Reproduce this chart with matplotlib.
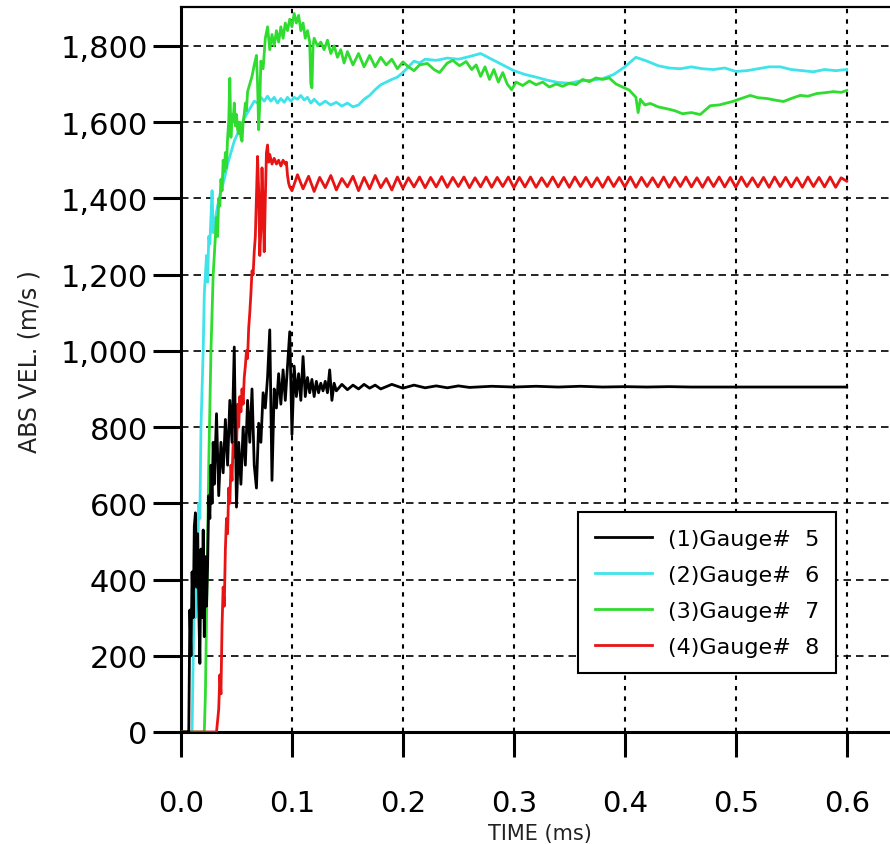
import matplotlib
matplotlib.use('Agg')
import matplotlib.pyplot as plt
from matplotlib.ticker import FuncFormatter, MultipleLocator

plt.rcParams['font.family'] = ['DejaVu Sans']

# ---- data (time in ms, velocity in m/s) ----
# (1) Gauge# 5  -- black
g5_t = [0.000, 0.006, 0.007, 0.008, 0.009, 0.010, 0.011, 0.012, 0.013, 0.014,
        0.015, 0.016, 0.017, 0.018, 0.019, 0.020, 0.021, 0.022, 0.023, 0.024,
        0.025, 0.026, 0.027, 0.028, 0.029, 0.030, 0.032, 0.034, 0.036, 0.038,
        0.040, 0.042, 0.044, 0.046, 0.048, 0.050, 0.052, 0.054, 0.056, 0.058,
        0.060, 0.062, 0.064, 0.066, 0.068, 0.070, 0.072, 0.074, 0.076, 0.078,
        0.080, 0.082, 0.084, 0.086, 0.088, 0.090, 0.092, 0.094, 0.096, 0.098,
        0.100, 0.102, 0.104, 0.106, 0.108, 0.110, 0.112, 0.114, 0.116, 0.118,
        0.120, 0.122, 0.124, 0.126, 0.128, 0.130, 0.132, 0.134, 0.136, 0.138,
        0.140, 0.145, 0.150, 0.155, 0.160, 0.165, 0.170, 0.175, 0.180, 0.190,
        0.200, 0.210, 0.220, 0.230, 0.240, 0.250, 0.260, 0.280, 0.300, 0.320,
        0.340, 0.360, 0.380, 0.400, 0.420, 0.440, 0.460, 0.500, 0.600]
g5_v = [0, 0, 0, 320, 200, 420, 300, 540, 575, 380,
        520, 330, 180, 480, 300, 530, 250, 460, 330, 440,
        620, 560, 700, 600, 760, 650, 835, 620, 760, 680,
        820, 700, 870, 760, 1010, 590, 760, 650, 800, 700,
        870, 760, 900, 700, 640, 810, 760, 890, 850, 930,
        1055, 660, 900, 850, 940, 860, 950, 870, 960, 1050,
        780, 960, 880, 940, 870, 985, 880, 930, 890, 925,
        880, 920, 890, 915, 895, 920, 890, 950, 870, 915,
        895, 912, 898, 910, 900, 912, 902, 910, 900, 912,
        902, 910, 903, 908, 903, 908, 904, 907, 905, 907,
        905, 907, 905, 906, 905, 906, 905, 905, 905]

# (2) Gauge# 6  -- cyan
g6_t = [0.000, 0.010, 0.011, 0.012, 0.013, 0.014, 0.015, 0.016, 0.017, 0.018,
        0.019, 0.020, 0.021, 0.022, 0.023, 0.024, 0.025, 0.026, 0.027, 0.028,
        0.029, 0.030, 0.033, 0.036, 0.039, 0.042, 0.045, 0.048, 0.051, 0.054,
        0.057, 0.060, 0.063, 0.066, 0.069, 0.072, 0.075, 0.078, 0.081, 0.084,
        0.087, 0.090, 0.093, 0.096, 0.099, 0.102, 0.105, 0.108, 0.111, 0.114,
        0.117, 0.120, 0.125, 0.130, 0.135, 0.140, 0.145, 0.150, 0.155, 0.160,
        0.165, 0.170, 0.175, 0.180, 0.185, 0.190, 0.195, 0.200, 0.205, 0.210,
        0.215, 0.220, 0.230, 0.240, 0.250, 0.260, 0.270, 0.280, 0.290, 0.300,
        0.310, 0.320, 0.330, 0.340, 0.350, 0.360, 0.370, 0.380, 0.390, 0.400,
        0.410, 0.420, 0.430, 0.440, 0.450, 0.460, 0.470, 0.480, 0.490, 0.500,
        0.510, 0.520, 0.530, 0.540, 0.550, 0.560, 0.570, 0.580, 0.590, 0.600]
g6_v = [0, 0, 200, 380, 300, 520, 460, 600, 560, 800,
        900, 1000, 1150, 1200, 1250, 1180, 1300, 1280, 1350, 1420,
        1310, 1330, 1380, 1420, 1450, 1490, 1520, 1550, 1570, 1590,
        1610, 1625, 1640, 1655, 1650, 1665, 1655, 1668, 1655, 1665,
        1650, 1662, 1652, 1665, 1655, 1665, 1660, 1670, 1658, 1665,
        1650, 1660, 1645, 1655, 1645, 1652, 1642, 1650, 1640, 1645,
        1660, 1670, 1685, 1698, 1705, 1712, 1718, 1730, 1745, 1760,
        1755, 1765, 1762, 1768, 1765, 1772, 1780, 1765, 1750, 1735,
        1725, 1718, 1710, 1704, 1702, 1708, 1710, 1714, 1725, 1745,
        1770, 1760, 1748, 1742, 1740, 1745, 1740, 1738, 1742, 1733,
        1735, 1740, 1745, 1745, 1738, 1735, 1732, 1738, 1735, 1738]

# (3) Gauge# 7  -- green
g7_t = [0.000, 0.021, 0.022, 0.023, 0.024, 0.025, 0.026, 0.027, 0.028, 0.029,
        0.030, 0.031, 0.032, 0.033, 0.034, 0.035, 0.036, 0.037, 0.038, 0.039,
        0.040, 0.041, 0.042, 0.043, 0.044, 0.045, 0.046, 0.047, 0.048, 0.049,
        0.050, 0.051, 0.052, 0.053, 0.054, 0.055, 0.056, 0.057, 0.058, 0.059,
        0.060, 0.062, 0.064, 0.066, 0.068, 0.069, 0.070, 0.071, 0.072, 0.074,
        0.076, 0.078, 0.080, 0.082, 0.084, 0.086, 0.088, 0.090, 0.092, 0.094,
        0.096, 0.098, 0.100, 0.102, 0.104, 0.106, 0.108, 0.110, 0.112, 0.114,
        0.116, 0.117, 0.118, 0.119, 0.120, 0.123, 0.126, 0.129, 0.132, 0.135,
        0.138, 0.141, 0.144, 0.147, 0.150, 0.155, 0.160, 0.165, 0.170, 0.175,
        0.180, 0.185, 0.190, 0.195, 0.200, 0.205, 0.210, 0.215, 0.222, 0.228,
        0.233, 0.240, 0.245, 0.251, 0.257, 0.262, 0.266, 0.270, 0.274, 0.278,
        0.282, 0.286, 0.290, 0.294, 0.298, 0.302, 0.308, 0.314, 0.320, 0.326,
        0.332, 0.338, 0.344, 0.350, 0.356, 0.362, 0.368, 0.374, 0.380, 0.386,
        0.392, 0.398, 0.404, 0.410, 0.412, 0.414, 0.418, 0.423, 0.430, 0.438,
        0.445, 0.452, 0.460, 0.468, 0.477, 0.485, 0.497, 0.505, 0.513, 0.520,
        0.528, 0.535, 0.543, 0.550, 0.558, 0.565, 0.573, 0.580, 0.588, 0.595,
        0.600]
g7_v = [0, 0, 100, 300, 500, 700, 850, 1000, 1100, 1200,
        1250, 1300, 1350, 1300, 1400, 1380, 1450, 1420, 1500, 1470,
        1520, 1480, 1560, 1600, 1715, 1560, 1620, 1600, 1650, 1590,
        1620, 1580, 1570, 1600, 1560, 1550, 1600, 1620, 1650, 1630,
        1680, 1700, 1720, 1750, 1775, 1700, 1580, 1650, 1760, 1740,
        1820, 1850, 1790, 1830, 1800, 1840, 1810, 1850, 1820, 1860,
        1840, 1870, 1850, 1885, 1860, 1880, 1840, 1860, 1820, 1840,
        1810, 1700, 1690, 1800, 1820, 1800, 1810, 1790, 1815, 1780,
        1800, 1770, 1790, 1755, 1785, 1750, 1780, 1745, 1775, 1745,
        1770, 1750, 1765, 1740, 1758, 1745, 1735, 1750, 1754, 1738,
        1730, 1755, 1762, 1748, 1759, 1738, 1750, 1720, 1745, 1712,
        1738, 1705, 1730, 1700, 1685, 1705, 1696, 1708, 1698, 1705,
        1692, 1700, 1694, 1702, 1698, 1712, 1706, 1716, 1712, 1716,
        1700, 1692, 1684, 1665, 1625, 1660, 1645, 1649, 1640, 1635,
        1630, 1622, 1625, 1620, 1643, 1645, 1654, 1662, 1670, 1664,
        1662, 1658, 1654, 1662, 1670, 1668, 1675, 1677, 1680, 1678,
        1683]

# (4) Gauge# 8  -- red
g8_t = [0.000, 0.032, 0.033, 0.034, 0.035, 0.036, 0.037, 0.038, 0.039, 0.040,
        0.041, 0.042, 0.043, 0.044, 0.045, 0.046, 0.047, 0.048, 0.049, 0.050,
        0.051, 0.052, 0.053, 0.054, 0.055, 0.056, 0.057, 0.058, 0.059, 0.060,
        0.061, 0.062, 0.063, 0.064, 0.065, 0.066, 0.067, 0.068, 0.069, 0.070,
        0.071, 0.072, 0.073, 0.074, 0.075, 0.076, 0.077, 0.078, 0.079, 0.080,
        0.082, 0.084, 0.086, 0.088, 0.090, 0.092, 0.094, 0.095, 0.096, 0.097,
        0.098,
        0.100, 0.105, 0.110, 0.115, 0.120, 0.125, 0.130, 0.135, 0.140, 0.145,
        0.150, 0.155, 0.160, 0.165, 0.170, 0.175, 0.180, 0.185, 0.190, 0.195,
        0.200, 0.205, 0.210, 0.215, 0.220, 0.225, 0.230, 0.235, 0.240, 0.245,
        0.250, 0.255, 0.260, 0.265, 0.270, 0.275, 0.280, 0.285, 0.290, 0.295,
        0.300, 0.305, 0.310, 0.315, 0.320, 0.325, 0.330, 0.335, 0.340, 0.345,
        0.350, 0.355, 0.360, 0.365, 0.370, 0.375, 0.380, 0.385, 0.390, 0.395,
        0.400, 0.405, 0.410, 0.415, 0.420, 0.425, 0.430, 0.435, 0.440, 0.445,
        0.450, 0.455, 0.460, 0.465, 0.470, 0.475, 0.480, 0.485, 0.490, 0.495,
        0.500, 0.505, 0.510, 0.515, 0.520, 0.525, 0.530, 0.535, 0.540, 0.545,
        0.550, 0.555, 0.560, 0.565, 0.570, 0.575, 0.580, 0.585, 0.590, 0.595,
        0.600]
g8_v = [0, 0, 30, 60, 150, 100, 280, 380, 330, 480,
        560, 520, 640, 600, 700, 660, 760, 720, 820, 740,
        860, 800, 880, 840, 900, 860, 930, 960, 1000, 980,
        1060, 1100, 1150, 1210, 1200, 1260, 1300, 1400, 1510, 1420,
        1250, 1320, 1480, 1380, 1260, 1400, 1520, 1540, 1495, 1515,
        1490, 1505, 1490, 1500, 1485, 1500, 1490, 1495, 1460, 1440,
        1430,
        1420, 1462, 1425, 1458, 1418, 1455, 1428, 1460, 1422, 1452,
        1430, 1458, 1420, 1455, 1425, 1460, 1428, 1452, 1422, 1456,
        1426, 1454, 1430, 1456, 1428, 1455, 1430, 1457, 1429, 1455,
        1431, 1456, 1428, 1454, 1430, 1456, 1429, 1455, 1431, 1456,
        1428, 1455, 1430, 1456, 1429, 1454, 1431, 1456, 1430, 1455,
        1429, 1456, 1431, 1455, 1430, 1454, 1429, 1456, 1431, 1455,
        1430, 1456, 1429, 1455, 1431, 1454, 1430, 1456, 1429, 1455,
        1431, 1456, 1430, 1454, 1429, 1455, 1431, 1456, 1430, 1455,
        1429, 1456, 1431, 1454, 1430, 1455, 1429, 1456, 1431, 1455,
        1430, 1454, 1429, 1456, 1431, 1455, 1430, 1456, 1429, 1454,
        1445]

labels = ['(1)Gauge#  5', '(2)Gauge#  6', '(3)Gauge#  7', '(4)Gauge#  8']
colors = ['#000000', '#3fe3ea', '#2fdc2f', '#e81414']

fig = plt.figure(figsize=(8.9, 8.45), dpi=100)
ax = fig.add_axes([181 / 890, 112 / 845, 709 / 890, 725 / 845])

lw = 2.0
l5, = ax.plot(g5_t, g5_v, color=colors[0], lw=lw, zorder=6, label=labels[0])
l6, = ax.plot(g6_t, g6_v, color=colors[1], lw=lw, zorder=3, label=labels[1])
l7, = ax.plot(g7_t, g7_v, color=colors[2], lw=lw, zorder=4, label=labels[2])
l8, = ax.plot(g8_t, g8_v, color=colors[3], lw=lw, zorder=5, label=labels[3])

ax.set_xlim(0, 0.639)
ax.set_ylim(0, 1902)
ax.xaxis.set_major_locator(MultipleLocator(0.1))
ax.yaxis.set_major_locator(MultipleLocator(200))
ax.xaxis.set_major_formatter(FuncFormatter(lambda v, p: f'{v:.1f}'))
ax.yaxis.set_major_formatter(FuncFormatter(lambda v, p: f'{v:,.0f}'))

# grid: dashed horizontals, dotted verticals
ax.yaxis.grid(True, color='black', lw=1.2, linestyle=(0, (4.5, 3)), zorder=1)
ax.xaxis.grid(True, color='black', lw=1.5, linestyle=(0, (2.1, 2.9)), zorder=1)
ax.set_axisbelow(True)

for s in ['left', 'bottom']:
    ax.spines[s].set_linewidth(2.2)
ax.spines['top'].set_linewidth(1.6)
ax.spines['right'].set_visible(False)

ax.tick_params(axis='x', direction='out', length=18, width=2.2, pad=23, labelsize=21)
ax.tick_params(axis='y', direction='out', length=20, width=2.2, pad=4, labelsize=22)

leg = ax.legend(handles=[l5, l6, l7, l8], loc='upper left',
                bbox_to_anchor=((578 - 181) / 709, (733 - 513) / 725),
                borderaxespad=0, fontsize=16, frameon=True, fancybox=False,
                framealpha=1, edgecolor='black', handlelength=2.6,
                handletextpad=0.7, labelspacing=0.72, borderpad=0.75)
leg.get_frame().set_linewidth(1.5)

fig.text(540 / 890, 1 - 834 / 845, 'TIME (ms)', ha='center', va='center',
         fontsize=15, color='#222222')
fig.text(30 / 890, 1 - 362 / 845, 'ABS VEL. (m/s )', ha='center', va='center',
         rotation=90, fontsize=17, color='#222222')

plt.savefig('out.png', dpi=100)
plt.close()
